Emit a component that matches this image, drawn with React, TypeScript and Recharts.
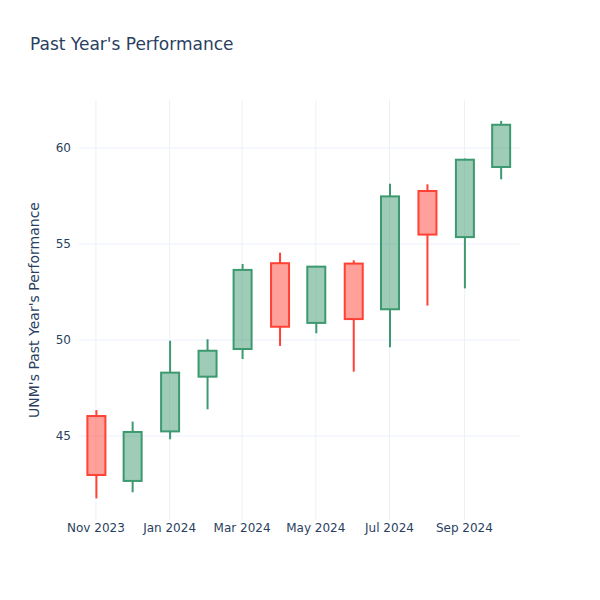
import React from 'react';
import { ComposedChart, Bar, XAxis, YAxis, CartesianGrid, Label } from 'recharts';

const months = [
  '2023-11-01', '2023-12-01', '2024-01-01', '2024-02-01', '2024-03-01', '2024-04-01',
  '2024-05-01', '2024-06-01', '2024-07-01', '2024-08-01', '2024-09-01', '2024-10-01',
];
const opens = [46.04, 42.66, 45.24, 48.09, 49.53, 54.0, 50.89, 53.98, 51.6, 57.76, 55.36, 59.01];
const highs = [46.35, 45.75, 49.96, 50.04, 53.96, 54.55, 53.86, 54.15, 58.14, 58.11, 59.45, 61.41];
const lows = [41.75, 42.07, 44.83, 46.39, 49.01, 49.69, 50.35, 48.35, 49.62, 51.79, 52.69, 58.37];
const closes = [42.97, 45.21, 48.3, 49.44, 53.65, 50.69, 53.82, 51.09, 57.48, 55.49, 59.39, 61.21];

const xTickDates = ['2023-11-01', '2024-01-01', '2024-03-01', '2024-05-01', '2024-07-01', '2024-09-01'];
const xTickLabels = ['Nov 2023', 'Jan 2024', 'Mar 2024', 'May 2024', 'Jul 2024', 'Sep 2024'];
const yTicks = [45, 50, 55, 60];

const toTs = (s: string) => Date.parse(s + 'T00:00:00Z');
const xDomain = [toTs('2023-10-18'), toTs('2024-10-17')];
const xTicks = xTickDates.map(toTs);
const labelByTs: Record<number, string> = {};
xTicks.forEach((t, i) => { labelByTs[t] = xTickLabels[i]; });

const data = months.map((m, i) => ({
  t: toTs(m),
  range: [lows[i], highs[i]],
  open: opens[i],
  high: highs[i],
  low: lows[i],
  close: closes[i],
}));

const TEXT = '#2a3f5f';
const FONT = '"DejaVu Sans", "Open Sans", sans-serif';

const Candle = (props: any) => {
  const { x, y, width, height, payload } = props;
  if (!payload) return null;
  const { open, close, high, low } = payload;
  const up = close >= open;
  const stroke = up ? '#3D9970' : '#FF4136';
  const fill = up ? 'rgba(61,153,112,0.5)' : 'rgba(255,65,54,0.5)';
  const top = Math.min(y, y + height);
  const h = Math.abs(height);
  const py = (v: number) => top + ((high - v) / (high - low)) * h;
  const cx = x + width / 2;
  const bTop = py(Math.max(open, close));
  const bBot = py(Math.min(open, close));
  return (
    <g>
      <line x1={cx} x2={cx} y1={py(high)} y2={bTop} stroke={stroke} strokeWidth={2} />
      <line x1={cx} x2={cx} y1={bBot} y2={py(low)} stroke={stroke} strokeWidth={2} />
      <rect x={x} y={bTop} width={width} height={Math.max(bBot - bTop, 1)} fill={fill} stroke={stroke} strokeWidth={2} />
    </g>
  );
};

export default function App() {
  return (
    <div style={{ position: 'absolute', left: 0, top: 0, width: 600, height: 600, background: '#fff', fontFamily: FONT }}>
      <div style={{ position: 'absolute', left: 30, top: 34, fontSize: 17, color: TEXT, fontFamily: FONT }}>
        Past Year's Performance
      </div>
      <ComposedChart
        width={600}
        height={600}
        data={data}
        margin={{ top: 100, right: 80, bottom: 0, left: 0 }}
      >
        <CartesianGrid
          stroke="#EBF0F8"
          strokeWidth={1}
          horizontalValues={yTicks}
          verticalValues={xTicks}
        />
        <XAxis
          dataKey="t"
          type="number"
          scale="linear"
          domain={xDomain}
          allowDataOverflow
          ticks={xTicks}
          tickFormatter={(v: number) => labelByTs[v] || ''}
          tickLine={false}
          axisLine={false}
          tick={{ fill: TEXT, fontSize: 12, fontFamily: FONT }}
          tickSize={0}
          tickMargin={3}
          height={80}
        />
        <YAxis
          type="number"
          domain={[40.625, 62.5]}
          allowDataOverflow
          ticks={yTicks}
          tickLine={false}
          axisLine={false}
          tick={{ fill: TEXT, fontSize: 12, fontFamily: FONT }}
          tickMargin={2}
          width={79}
        >
          <Label
            value="UNM's Past Year's Performance"
            angle={-90}
            position="insideLeft"
            offset={0}
            dx={34}
            style={{ fill: TEXT, fontSize: 14, fontFamily: FONT, textAnchor: 'middle' }}
          />
        </YAxis>
        <Bar dataKey="range" barSize={18} shape={<Candle />} isAnimationActive={false} />
      </ComposedChart>
    </div>
  );
}
